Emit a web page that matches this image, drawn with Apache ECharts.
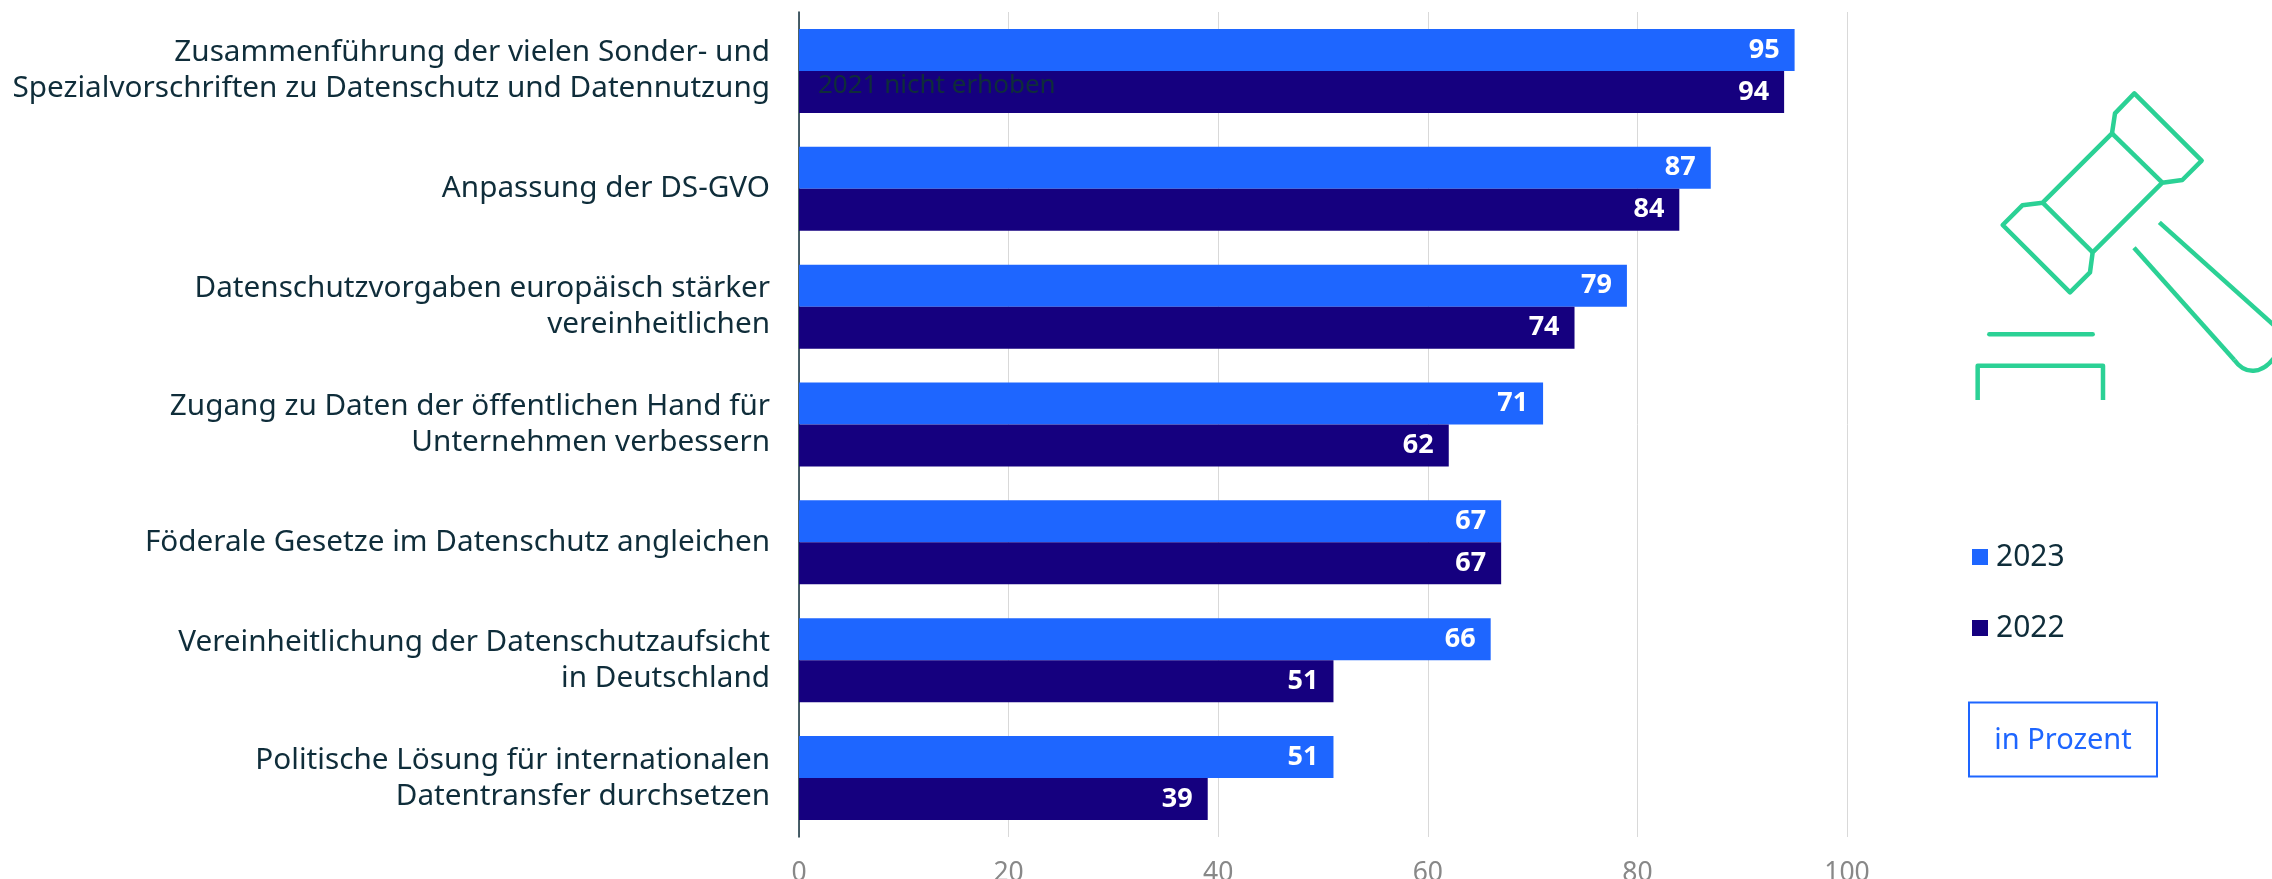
<!DOCTYPE html>
<html><head><meta charset="utf-8">
<style>html,body{margin:0;padding:0;background:#fff}#c{width:2272px;height:879px}</style>
<script src="https://cdn.jsdelivr.net/npm/echarts@6/dist/echarts.min.js"></script>
</head><body><div id="c"></div>
<script>
const categories = [
 "Zusammenführung der vielen Sonder- und\nSpezialvorschriften zu Datenschutz und Datennutzung",
 "Anpassung der DS-GVO",
 "Datenschutzvorgaben europäisch stärker\nvereinheitlichen",
 "Zugang zu Daten der öffentlichen Hand für\nUnternehmen verbessern",
 "Föderale Gesetze im Datenschutz angleichen",
 "Vereinheitlichung der Datenschutzaufsicht\nin Deutschland",
 "Politische Lösung für internationalen\nDatentransfer durchsetzen"
];
const values2023 = [95,87,79,71,67,66,51];
const values2022 = [94,84,74,62,67,51,39];
const FONT = "Noto Sans";
const INK = "#0f2d3a", BLUE = "#1e66ff", NAVY = "#15007f", GREEN = "#2bd195";

// Icon outline, measured in zoom-crop pixels
const P = p => [1900 + p[0]/3, 60 + p[1]/3];
const iconStyle = {stroke: GREEN, lineWidth: 4.5, fill: null, lineJoin: "round"};
const head = [[703,100],[905,302],[847,360],[787,368],[578,577],[570,637],[510,697],[308,495],[367,436],[428,428],[636,220],[645,160]];
const lines = [
  [[636,220],[787,368]], [[428,428],[578,577]],
  [[778,487],[1130,803]], [[702,563],[1003,900]],
  [[233,1020],[233,917],[609,917],[609,1020]]
];
const graphics = [
  {type:"polygon", shape:{points:head.map(P)}, style:iconStyle, silent:true},
  ...lines.map(l => ({type:"polyline", shape:{points:l.map(P)}, style:iconStyle, silent:true})),
  {type:"bezierCurve", shape:(()=>{const a=P([1003,900]),c1=P([1035,945]),c2=P([1085,945]),b=P([1125,890]);
     return {x1:a[0],y1:a[1],cpx1:c1[0],cpy1:c1[1],cpx2:c2[0],cpy2:c2[1],x2:b[0],y2:b[1]};})(), style:iconStyle, silent:true},
  {type:"line", shape:(()=>{const a=P([268,823]),b=P([578,823]);return {x1:a[0],y1:a[1],x2:b[0],y2:b[1]};})(), style:{stroke:GREEN,lineWidth:4.5,lineCap:"round"}, silent:true},
  {type:"rect", shape:{x:1969,y:702.5,width:188,height:74}, style:{fill:"#fff",stroke:BLUE,lineWidth:2}, silent:true},
  {type:"text", x:2063, y:741, style:{text:"in Prozent",fill:BLUE,font:"29px '"+FONT+"'",textAlign:"center",textVerticalAlign:"middle"}, silent:true},
  {type:"text", x:818, y:86, z:100, style:{text:"2021 nicht erhoben",fill:INK,font:"26px '"+FONT+"'",textAlign:"left",textVerticalAlign:"middle"}, silent:true}
];

const bar = (name,data,color) => ({
  name, type:"bar", data, barWidth:42, barGap:0,
  itemStyle:{color},
  label:{show:true, position:"insideRight", distance:15, color:"#fff",
         fontFamily:FONT, fontWeight:"bold", fontSize:27}
});

const chart = echarts.init(document.getElementById("c"), null, {renderer:"canvas"});
chart.setOption({
  animation:false,
  backgroundColor:"#fff",
  grid:{left:799, right:425, top:12, bottom:42, containLabel:false, outerBoundsMode:"none"},
  legend:{
    orient:"vertical", left:1967, top:536, itemWidth:16, itemHeight:16, itemGap:39, icon:"rect",
    selectedMode:false, data:["2023","2022"],
    textStyle:{color:INK, fontFamily:FONT, fontSize:30, lineHeight:32, padding:[0,0,0,3]}
  },
  xAxis:{type:"value", min:0, max:100, interval:20,
    axisLine:{show:false}, axisTick:{show:false},
    axisLabel:{color:"#888", fontFamily:FONT, fontSize:26.5, margin:23},
    splitLine:{show:true, lineStyle:{color:"#d9d9d9", width:1}}},
  yAxis:{type:"category", data:categories, inverse:true,
    axisLine:{show:true, lineStyle:{color:INK, width:1.5}}, axisTick:{show:false},
    axisLabel:{color:INK, fontFamily:FONT, fontSize:29.7, lineHeight:36, margin:29, align:"right", padding:[4,0,0,0]}},
  series:[bar("2023",values2023,BLUE), bar("2022",values2022,NAVY)],
  graphic:graphics
});
</script></body></html>
